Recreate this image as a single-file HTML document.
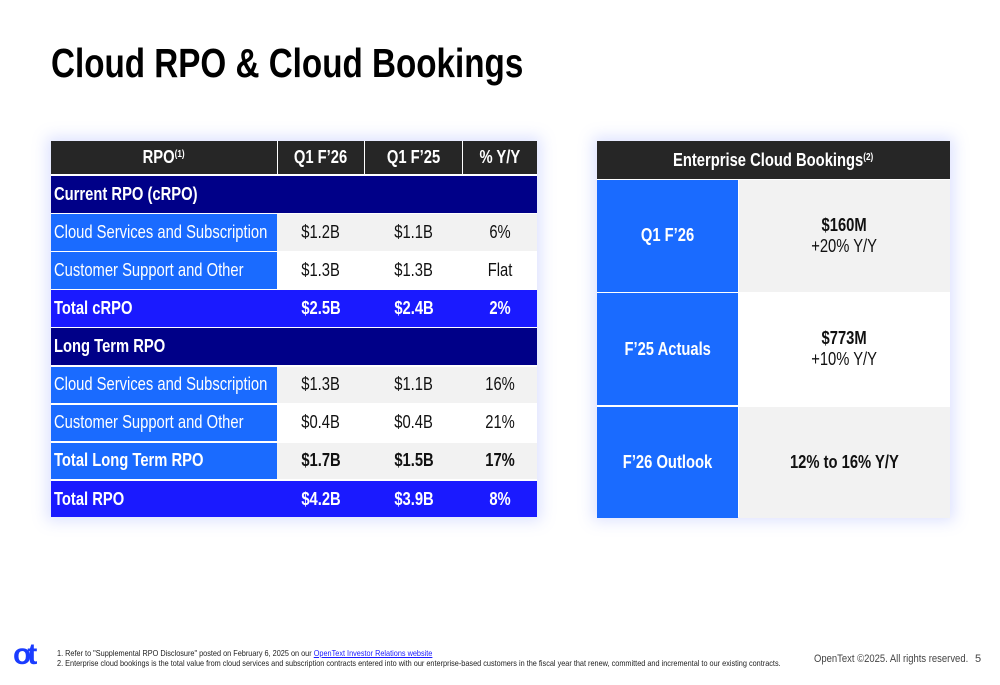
<!DOCTYPE html>
<html><head><meta charset="utf-8"><style>
*{margin:0;padding:0;box-sizing:border-box}
body{width:1000px;height:685px;background:#fff;position:relative;overflow:hidden;font-family:"Liberation Sans",Arial,sans-serif;color:#111}
.a{position:absolute;display:flex;align-items:center}
.c{justify-content:center}
.n{display:inline-block;transform:scaleX(.82);transform-origin:center;white-space:nowrap}
.l .n{transform-origin:left}
.l{padding-left:3px}
.dk{background:#262626;color:#fff;font-weight:bold}
.nv{background:#000088;color:#fff;font-weight:bold}
.bl{background:#1a6bff;color:#fff}
.br{background:#1a1aff;color:#fff;font-weight:bold}
.gr{background:#f2f2f2}
sup{font-size:10px;vertical-align:6px}
.sh{position:absolute;box-shadow:0 0 14px 4px rgba(120,140,255,.25)}
</style></head><body>
<div class="a" style="left:51px;top:38px;height:50px;font-size:41px;font-weight:bold;color:#000"><span class="n" style="transform-origin:left;transform:scaleX(.81)">Cloud RPO &amp; Cloud Bookings</span></div>

<div class="sh" style="left:51px;top:141px;width:486px;height:376px"></div>
<div class="sh" style="left:597px;top:141px;width:353px;height:376px"></div>

<div id="t"></div>
<div id="b"></div>

<div class="a" style="left:57px;top:648px;display:block;font-size:8.5px;line-height:10px;color:#222">
<div><span class="n" style="transform-origin:left;transform:scaleX(.86)">1. Refer to "Supplemental RPO Disclosure" posted on February 6, 2025 on our <span style="color:#1a1aff;text-decoration:underline">OpenText Investor Relations website</span></span></div>
<div><span class="n" style="transform-origin:left;transform:scaleX(.86)">2. Enterprise cloud bookings is the total value from cloud services and subscription contracts entered into with our enterprise-based customers in the fiscal year that renew, committed and incremental to our existing contracts.</span></div>
</div>
<div class="a" style="left:814px;top:652px;height:14px;font-size:11px;color:#444"><span class="n" style="transform-origin:left;transform:scaleX(.86)">OpenText ©2025. All rights reserved.</span></div>
<div class="a" style="left:975px;top:652px;height:14px;font-size:11px;color:#444">5</div>
<div class="a" style="left:13px;top:640px;height:30px;font-size:30px;font-weight:bold;color:#1a3cff;letter-spacing:-4px">ot</div>

<script>
const rows=[
 ["Current RPO (cRPO)","","","","nv"],
 ["Cloud Services and Subscription","$1.2B","$1.1B","6%","gr"],
 ["Customer Support and Other","$1.3B","$1.3B","Flat","wh"],
 ["Total cRPO","$2.5B","$2.4B","2%","br"],
 ["Long Term RPO","","","","nv"],
 ["Cloud Services and Subscription","$1.3B","$1.1B","16%","gr"],
 ["Customer Support and Other","$0.4B","$0.4B","21%","wh"],
 ["Total Long Term RPO","$1.7B","$1.5B","17%","gr"],
 ["Total RPO","$4.2B","$3.9B","8%","br"]
];
const cols=[[51,226],[278,86],[365,97],[463,74]];
const t=document.getElementById('t');
function cell(par,x,y,w,h,cls,html,fs,name){
 const d=document.createElement('div');
 d.className='a '+cls;
 d.style.cssText=`left:${x}px;top:${y}px;width:${w}px;height:${h}px;font-size:${fs}px`;
 d.innerHTML='<span class="n">'+html+'</span>';
 
 
 par.appendChild(d);
}
const hdr=['RPO<sup>(1)</sup>','Q1 F’26','Q1 F’25','% Y/Y'];
hdr.forEach((h,i)=>cell(t,cols[i][0],141,cols[i][1],33,'dk c',h,18,'header-cell'));
rows.forEach((r,k)=>{
 const y=176+k*38.1, h=36.5;
 const bold=r[0].startsWith('Total');
 if(r[4]==='nv'){cell(t,51,y,486,h,'nv l',r[0],18,'section-row');return;}
 const lab=r[4]==='br'?'br l':'bl l';
 cell(t,51,y,226,h,lab,bold?'<b>'+r[0]+'</b>':r[0],18,'row-label');
 const vc=r[4]==='br'?'br c':(r[4]==='gr'?'gr c':'c');
 for(let i=1;i<4;i++){
  cell(t,cols[i][0]-(i==1?1:0),y,cols[i][1]+(i==1?1:0)+(i<3?1:0),h,vc,bold?'<b>'+r[i]+'</b>':r[i],18,'value-cell');
 }
});
const b=document.getElementById('b');
cell(b,597,141,353,38,'dk c','Enterprise Cloud Bookings<sup>(2)</sup>',18,'bookings-header');
const bk=[["Q1 F’26","<b>$160M</b><br>+20% Y/Y","gr"],["F’25 Actuals","<b>$773M</b><br>+10% Y/Y",""],["F’26 Outlook","<b>12% to 16% Y/Y</b>","gr"]];
bk.forEach((r,k)=>{
 const y=180+k*113.3;
 cell(b,597,y,141,111.5,'bl c','<b>'+r[0]+'</b>',18,'bookings-period');
 cell(b,739,y,211,111.5,r[2]+' c',r[1],18,'bookings-value');
});
document.querySelectorAll('#b .c span').forEach(s=>s.style.textAlign='center');
</script>
</body></html>
